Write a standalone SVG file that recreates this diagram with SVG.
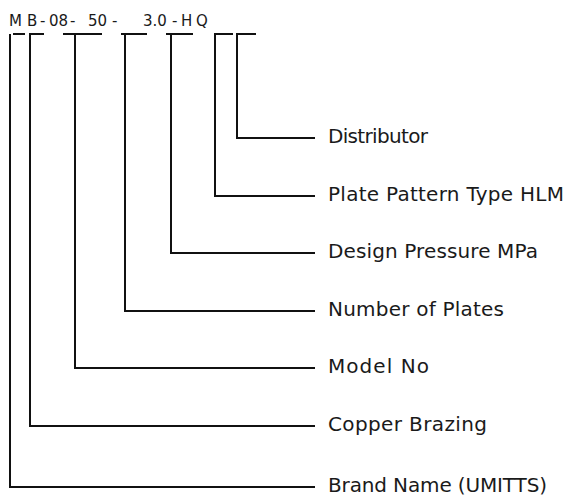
<svg xmlns="http://www.w3.org/2000/svg" width="569" height="496" viewBox="0 0 569 496">
<style>
.c{fill:none;stroke:#111;stroke-width:2;stroke-linejoin:miter}
.lbl{font-family:"DejaVu Sans","Liberation Sans",sans-serif;font-size:20px;fill:#1a1a1a}
.code{font-family:"DejaVu Sans","Liberation Sans",sans-serif;font-size:15px;fill:#1a1a1a}
</style>
<rect width="569" height="496" fill="#fff"/>
<g id="code">
<text class="code" y="26"><tspan x="9">M</tspan><tspan x="27">B</tspan><tspan x="40">-</tspan><tspan x="49">08</tspan><tspan x="70">-</tspan><tspan x="88">50</tspan><tspan x="112">-</tspan><tspan x="143">3.0</tspan><tspan x="172">-</tspan><tspan x="181">H</tspan><tspan x="196">Q</tspan></text>
</g>
<g id="connectors">
<path class="c" d="M13,34 H25"/>
<path class="c" d="M10,34 V487 H315"/>
<path class="c" d="M44,34 H30 V426 H315"/>
<path class="c" d="M63,34 H102"/>
<path class="c" d="M75,34 V368 H315"/>
<path class="c" d="M121,34 H147"/>
<path class="c" d="M125,34 V311 H315"/>
<path class="c" d="M166,34 H193"/>
<path class="c" d="M171,34 V253 H315"/>
<path class="c" d="M233,34 H215 V196 H315"/>
<path class="c" d="M256,34 H237 V138 H315"/>
</g>
<g id="distributor"><text class="lbl" x="328" y="143" textLength="100">Distributor</text></g>
<g id="plate-pattern"><text class="lbl" x="328" y="201" textLength="236">Plate Pattern Type HLM</text></g>
<g id="design-pressure"><text class="lbl" x="328" y="258" textLength="210">Design Pressure MPa</text></g>
<g id="number-of-plates"><text class="lbl" x="328" y="316" textLength="176">Number of Plates</text></g>
<g id="model-no"><text class="lbl" x="328" y="373" textLength="101">Model No</text></g>
<g id="copper-brazing"><text class="lbl" x="328" y="431" textLength="159">Copper Brazing</text></g>
<g id="brand-name"><text class="lbl" x="328" y="492" textLength="219">Brand Name (UMITTS)</text></g>
</svg>
